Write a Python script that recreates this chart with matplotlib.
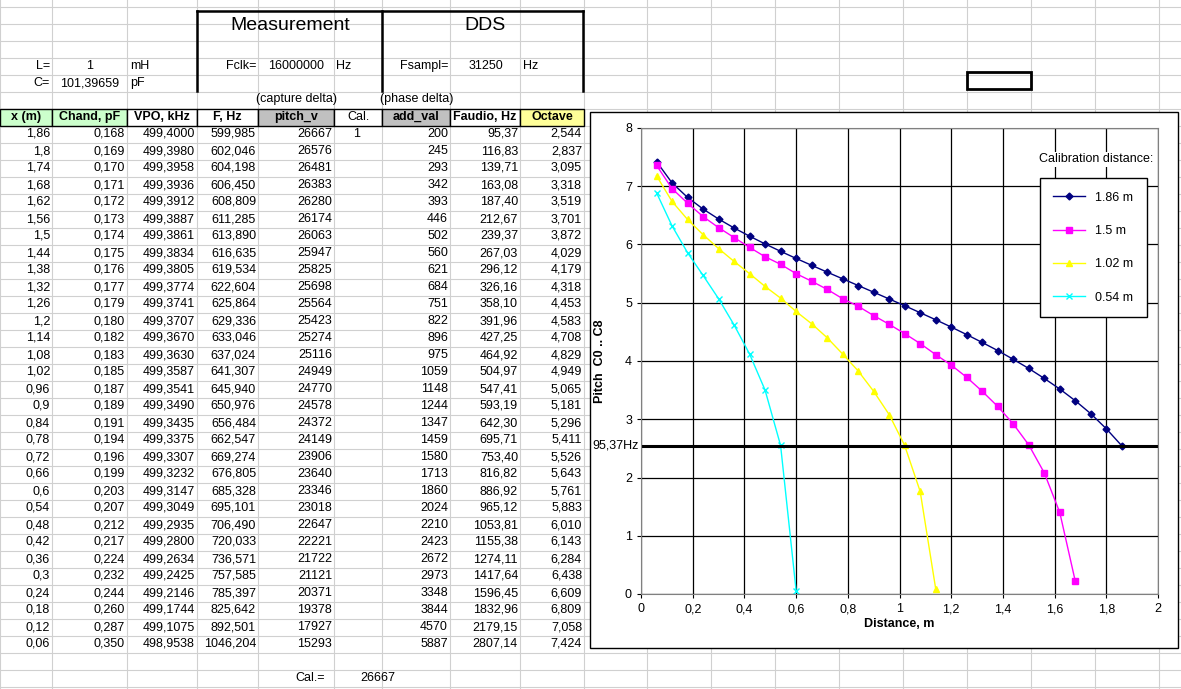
import matplotlib
matplotlib.use("Agg")
import matplotlib.pyplot as plt
from matplotlib.patches import Rectangle

plt.rcParams['font.family'] = ['Liberation Sans', 'DejaVu Sans']

x_m = [1.86,1.8,1.74,1.68,1.62,1.56,1.5,1.44,1.38,1.32,1.26,1.2,1.14,1.08,1.02,0.96,0.9,0.84,0.78,0.72,0.66,0.6,0.54,0.48,0.42,0.36,0.3,0.24,0.18,0.12,0.06]
chand = [0.168,0.169,0.170,0.171,0.172,0.173,0.174,0.175,0.176,0.177,0.179,0.180,0.182,0.183,0.185,0.187,0.189,0.191,0.194,0.196,0.199,0.203,0.207,0.212,0.217,0.224,0.232,0.244,0.260,0.287,0.350]
vpo = [499.4000,499.3980,499.3958,499.3936,499.3912,499.3887,499.3861,499.3834,499.3805,499.3774,499.3741,499.3707,499.3670,499.3630,499.3587,499.3541,499.3490,499.3435,499.3375,499.3307,499.3232,499.3147,499.3049,499.2935,499.2800,499.2634,499.2425,499.2146,499.1744,499.1075,498.9538]
f_hz = [599.985,602.046,604.198,606.450,608.809,611.285,613.890,616.635,619.534,622.604,625.864,629.336,633.046,637.024,641.307,645.940,650.976,656.484,662.547,669.274,676.805,685.328,695.101,706.490,720.033,736.571,757.585,785.397,825.642,892.501,1046.204]
pitch_v = [26667,26576,26481,26383,26280,26174,26063,25947,25825,25698,25564,25423,25274,25116,24949,24770,24578,24372,24149,23906,23640,23346,23018,22647,22221,21722,21121,20371,19378,17927,15293]
add_val = [200,245,293,342,393,446,502,560,621,684,751,822,896,975,1059,1148,1244,1347,1459,1580,1713,1860,2024,2210,2423,2672,2973,3348,3844,4570,5887]
faudio = [95.37,116.83,139.71,163.08,187.40,212.67,239.37,267.03,296.12,326.16,358.10,391.96,427.25,464.92,504.97,547.41,593.19,642.30,695.71,753.40,816.82,886.92,965.12,1053.81,1155.38,1274.11,1417.64,1596.45,1832.96,2179.15,2807.14]
octave = [2.544,2.837,3.095,3.318,3.519,3.701,3.872,4.029,4.179,4.318,4.453,4.583,4.708,4.829,4.949,5.065,5.181,5.296,5.411,5.526,5.643,5.761,5.883,6.010,6.143,6.284,6.438,6.609,6.809,7.058,7.424]

x_15 = [1.68,1.62,1.56,1.5,1.44,1.38,1.32,1.26,1.2,1.14,1.08,1.02,0.96,0.9,0.84,0.78,0.72,0.66,0.6,0.54,0.48,0.42,0.36,0.3,0.24,0.18,0.12,0.06]
y_15 = [0.22,1.40,2.08,2.56,2.92,3.22,3.48,3.72,3.93,4.11,4.30,4.47,4.63,4.78,4.94,5.07,5.23,5.37,5.50,5.66,5.79,5.95,6.12,6.29,6.48,6.71,6.96,7.36]
x_102 = [1.14,1.08,1.02,0.96,0.9,0.84,0.78,0.72,0.66,0.6,0.54,0.48,0.42,0.36,0.3,0.24,0.18,0.12,0.06]
y_102 = [0.09,1.76,2.55,3.08,3.48,3.83,4.12,4.40,4.64,4.85,5.08,5.28,5.50,5.71,5.93,6.17,6.43,6.74,7.18]
x_054 = [0.6,0.54,0.48,0.42,0.36,0.3,0.24,0.18,0.12,0.06]
y_054 = [0.06,2.55,3.50,4.12,4.62,5.07,5.47,5.86,6.32,6.89]

W, H = 1181, 689
fig = plt.figure(figsize=(W/100, H/100), dpi=100)
bg = fig.add_axes([0, 0, 1, 1])
bg.set_xlim(0, W); bg.set_ylim(H, 0); bg.axis('off')

col_edges = [0, 52, 127, 197, 258, 334, 382, 450, 520, 584, 647, 711, 775, 839, 903, 967, 1031, 1095, 1159]
row_edges = [6.5 + 17*k for k in range(41)]
gc = '#d0d0d0'
for cx in col_edges:
    bg.plot([cx, cx], [0, H], color=gc, lw=0.8, zorder=0)
for ry in row_edges:
    bg.plot([0, W], [ry, ry], color=gc, lw=0.8, zorder=0)

fs = 9
def txt(x, y, s, ha='right', **kw):
    bg.text(x, y, s, ha=ha, va='center', fontsize=kw.pop('size', fs), **kw)

for seg in [([197, 583], [11, 11]), ([197, 197], [11, 91]), ([382, 382], [11, 91]), ([583, 583], [11, 91])]:
    bg.plot(seg[0], seg[1], color='black', lw=1.8, zorder=3)
txt(290, 25, 'Measurement', ha='center', size=14)
txt(485, 25, 'DDS', ha='center', size=14)
txt(50, 66, 'L='); txt(90, 66, '1', ha='center'); txt(130, 66, 'mH', ha='left')
txt(50, 83, 'C='); txt(90, 83, '101,39659', ha='center'); txt(130, 83, 'pF', ha='left')
txt(256, 66, 'Fclk='); txt(296, 66, '16000000', ha='center'); txt(336, 66, 'Hz', ha='left')
txt(448, 66, 'Fsampl='); txt(486, 66, '31250', ha='center'); txt(523, 66, 'Hz', ha='left')
txt(296, 99, '(capture delta)', ha='center'); txt(380, 99, '(phase delta)', ha='left')

headers = ['x (m)', 'Chand, pF', 'VPO, kHz', 'F, Hz', 'pitch_v', 'Cal.', 'add_val', 'Faudio, Hz', 'Octave']
hcolors = ['#ccffcc', '#ccffcc', 'white', 'white', '#c0c0c0', 'white', '#c0c0c0', 'white', '#ffff99']
hy0, hy1 = row_edges[6], row_edges[7]
for i, (h, c) in enumerate(zip(headers, hcolors)):
    bg.add_patch(Rectangle((col_edges[i], hy0), col_edges[i+1]-col_edges[i], hy1-hy0,
                           facecolor=c, edgecolor='black', lw=1, zorder=2))
    bg.text((col_edges[i]+col_edges[i+1])/2, (hy0+hy1)/2, h, ha='center', va='center',
            fontsize=fs, fontweight='normal' if h == 'Cal.' else 'bold', zorder=4)

def cfmt(v, d):
    return f"{v:.{d}f}".replace('.', ',')
for r in range(len(x_m)):
    y = (row_edges[7+r] + row_edges[8+r]) / 2
    txt(50, y, f"{x_m[r]:g}".replace('.', ','))
    txt(125, y, cfmt(chand[r], 3))
    txt(195, y, cfmt(vpo[r], 4))
    txt(256, y, cfmt(f_hz[r], 3))
    txt(332, y, str(pitch_v[r]))
    if r == 0:
        txt(357, y, '1', ha='center')
    txt(448, y, str(add_val[r]))
    txt(518, y, cfmt(faudio[r], 2))
    txt(582, y, cfmt(octave[r], 3))
yb = (row_edges[39] + row_edges[40]) / 2
txt(325, yb, 'Cal.='); txt(360, yb, str(pitch_v[0]), ha='left')

bg.add_patch(Rectangle((967, 72), 64, 17, fill=False, edgecolor='black', lw=2, zorder=3))

bg.add_patch(Rectangle((590, 112), 588, 536, facecolor='white', edgecolor='black', lw=1, zorder=5))

ax = fig.add_axes([641/W, 1-594/H, 517/W, 466/H], zorder=10)
ax.set_xlim(0, 2); ax.set_ylim(0, 8)
ax.set_xticks([i*0.2 for i in range(11)])
ax.set_xticklabels(['0'] + [f"{i*0.2:g}".replace('.', ',') for i in range(1, 11)])
ax.set_yticks(range(9))
ax.grid(True, color='black', lw=0.9)
ax.tick_params(labelsize=9, length=3)
for s in ax.spines.values():
    s.set_color('#808080')
ax.plot(x_m, octave, color='#000080', marker='D', ms=3.5, lw=1, label='1.86 m')
ax.plot(x_15, y_15, color='#ff00ff', marker='s', ms=4, lw=1, label='1.5 m')
ax.plot(x_102, y_102, color='#ffff00', marker='^', ms=5, lw=1, label='1.02 m')
ax.plot(x_054, y_054, color='#00ffff', marker='x', ms=4, lw=1, label='0.54 m')
ax.axhline(octave[0], color='black', lw=2.2)
ax.text(-0.01, octave[0], f"{faudio[0]:.2f}".replace('.', ',') + 'Hz', ha='right', va='center', fontsize=9)
ax.set_xlabel('Distance, m', fontsize=9, fontweight='bold', labelpad=2)
ax.set_ylabel('Pitch  C0 .. C8', fontsize=9, fontweight='bold', labelpad=14)
ax.legend(loc='upper right', bbox_to_anchor=(0.99, 0.906), fontsize=9, frameon=True,
          fancybox=False, edgecolor='black', framealpha=1, labelspacing=1.7,
          borderpad=1.1, handlelength=2.5)
ax.text(0.99, 0.933, 'Calibration distance:', transform=ax.transAxes, ha='right', va='center', fontsize=9,
        bbox=dict(facecolor='white', edgecolor='none', pad=1))

fig.savefig('out.png', dpi=100)
